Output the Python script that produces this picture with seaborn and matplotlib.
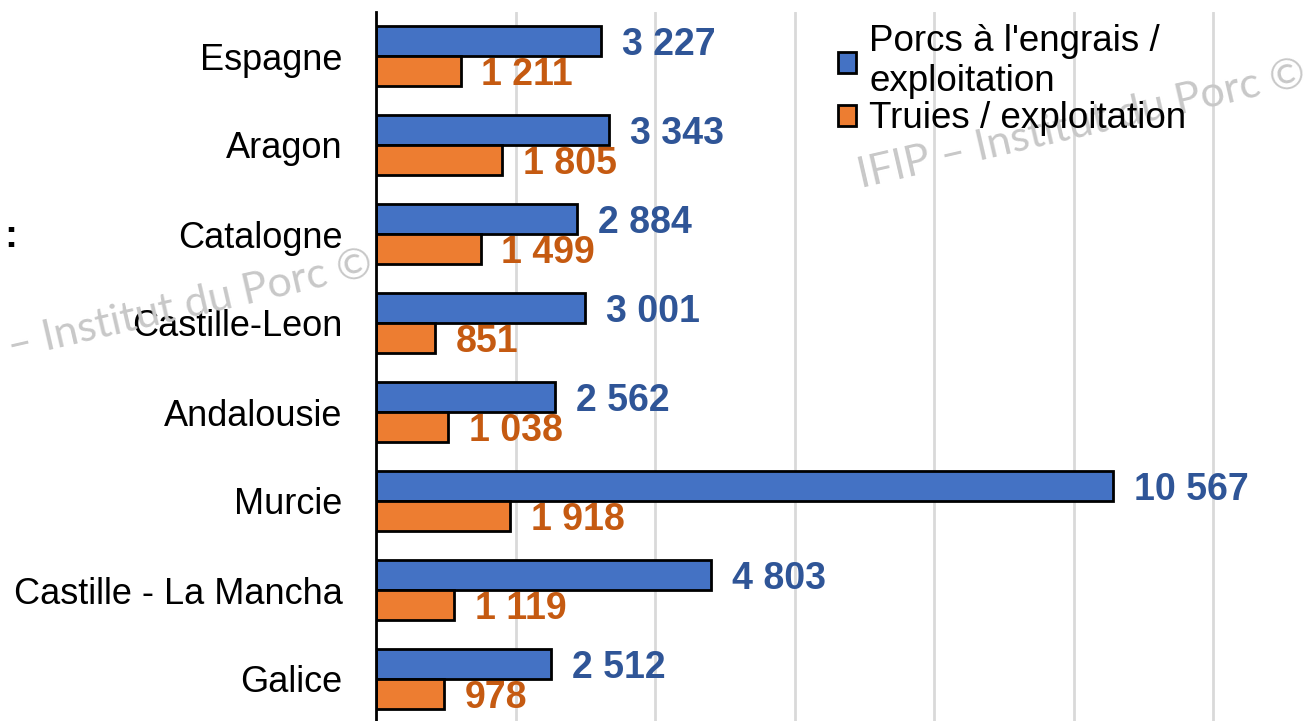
import pandas as pd
import seaborn as sns
import matplotlib.pyplot as plt
from matplotlib.patches import Patch

regions = ["Espagne", "Aragon", "Catalogne", "Castille-Leon", "Andalousie",
           "Murcie", "Castille - La Mancha", "Galice"]
porcs = [3227, 3343, 2884, 3001, 2562, 10567, 4803, 2512]
truies = [1211, 1805, 1499, 851, 1038, 1918, 1119, 978]
series = ["Porcs à l'engrais /\nexploitation", "Truies / exploitation"]

blue, orange = "#4472C4", "#ED7D31"
blue_txt, orange_txt = "#2F5597", "#C55A11"

df = pd.DataFrame({
    "region": regions * 2,
    "value": porcs + truies,
    "serie": [series[0]] * len(regions) + [series[1]] * len(regions),
})

sns.set_theme(style="white")
plt.rcParams['font.family'] = ['Liberation Sans', 'DejaVu Sans']

fig = plt.figure(figsize=(13.11, 7.21), dpi=100)
ax = fig.add_axes([376 / 1311, -2.5 / 721, (1353 - 376) / 1311, (723.5 - 11.5) / 721])

sns.barplot(data=df, y="region", x="value", hue="serie", orient="h",
            palette=[blue, orange], width=0.67, edgecolor="black",
            linewidth=2, ax=ax, legend=False, saturation=1)

ax.set_xlim(0, 14000)
ax.set_ylim(7.5, -0.5)
ax.set_xticks(range(0, 14001, 2000))
ax.set_xticklabels([])
ax.grid(axis="x", color="#D9D9D9", linewidth=2)
ax.set_axisbelow(True)
ax.set_xlabel("")
ax.set_ylabel("")
for s in ["top", "right", "bottom"]:
    ax.spines[s].set_visible(False)
ax.spines["left"].set_color("black")
ax.spines["left"].set_linewidth(2)
ax.tick_params(axis="y", length=0, pad=24, labelsize=26, labelcolor="black")
ax.tick_params(axis="x", length=0)

for cont, col in zip(ax.containers, [blue_txt, orange_txt]):
    labels = [f"{int(b.get_width()):,}".replace(",", " ") for b in cont]
    texts = ax.bar_label(cont, labels=labels, padding=15, color=col, fontsize=27,
                         fontweight="bold")
    for t in texts:
        t.set_va("center_baseline")

handles = [Patch(facecolor=blue, edgecolor="black", linewidth=2),
           Patch(facecolor=orange, edgecolor="black", linewidth=2)]
leg = fig.legend(handles, series, loc="upper left", bbox_to_anchor=(838 / 1311, 1 - 24 / 721),
                 frameon=False, fontsize=26.5, handlelength=0.5, handleheight=0.5,
                 handletextpad=0.35, labelspacing=0.05, borderaxespad=0, borderpad=0,
                 labelcolor="black")

wm = "IFIP – Institut du Porc ©"
fig.text(1308 / 1311, 1 - 85 / 721, wm, ha="right", va="baseline", rotation=13,
         rotation_mode="anchor", color="#C8C8C8", fontsize=31, family=["Lato", "DejaVu Sans"])
fig.text(375 / 1311, 1 - 275 / 721, wm, ha="right", va="baseline", rotation=13,
         rotation_mode="anchor", color="#C8C8C8", fontsize=31, family=["Lato", "DejaVu Sans"])
fig.text(4 / 1311, 1 - 247 / 721, ":", fontsize=28, fontweight="bold", color="black")

fig.savefig("out.png", dpi=100)
